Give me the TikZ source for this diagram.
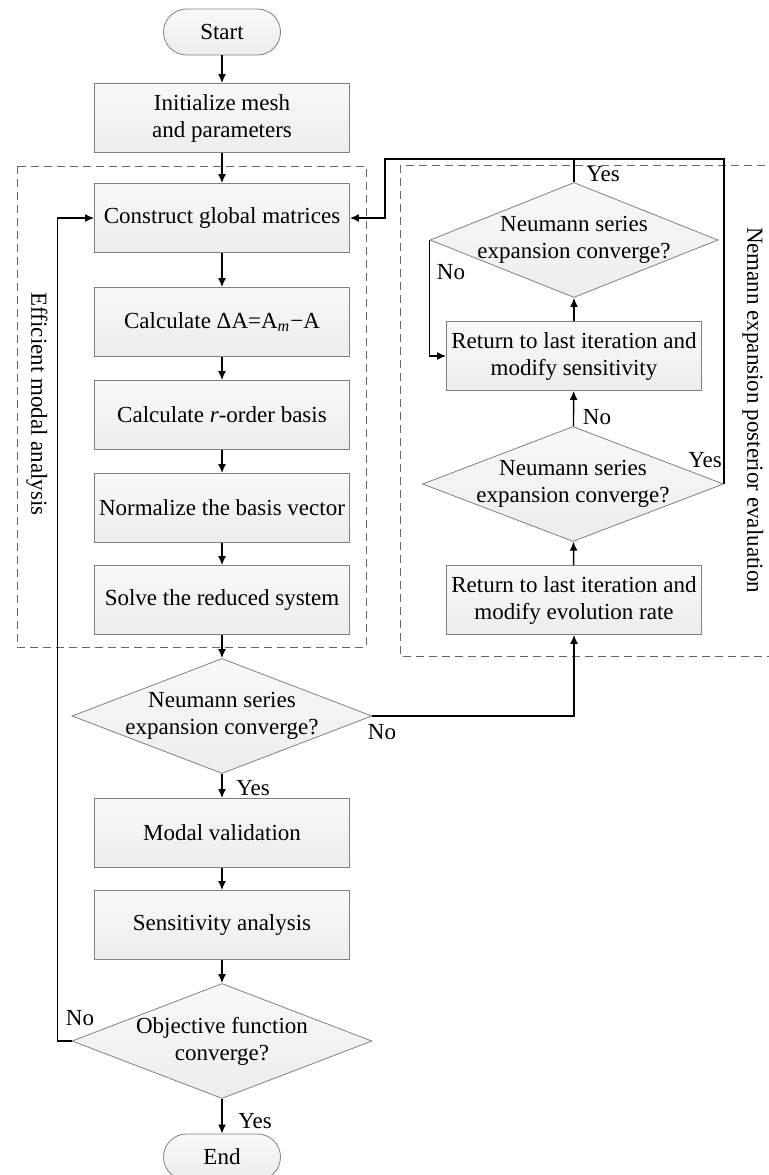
\documentclass[tikz,border=0pt]{standalone}
\usepackage{fontspec}
\setmainfont{Liberation Serif}
\usetikzlibrary{shapes.geometric,arrows.meta}

\begin{document}
\begin{tikzpicture}[x=0.5pt,y=-0.5pt,
  font=\fontsize{11.5}{13.5}\selectfont,
  proc/.style={rectangle,draw=gray,line width=0.4pt,top color=gray!5,bottom color=gray!14,
    minimum width=127.5pt,minimum height=34.5pt,inner sep=0pt,align=center},
  term/.style={proc,rounded corners=11.5pt,minimum width=58.5pt,minimum height=23pt},
  decision/.style={diamond,draw=gray,line width=0.4pt,top color=gray!5,bottom color=gray!14,
    minimum width=150pt,minimum height=57.5pt,inner sep=0pt},
  arr/.style={line width=0.7pt,-{Latex[length=4.5pt,width=4pt]}},
  link/.style={line width=0.7pt},
  dashbox/.style={gray!80!black,line width=0.5pt,dash pattern=on 4pt off 2.5pt}]
\useasboundingbox (0,0) rectangle (769,1175);

% group frames
\draw[dashbox] (17,166) rectangle (366,647);
\draw[dashbox] (400,165) rectangle (800,656);
\node[rotate=-90,inner sep=1pt] (grpL) at (37,404) {Efficient modal analysis};
\node[rotate=-90,inner sep=1pt] (grpR) at (753,410) {Nemann expansion posterior evaluation};

% main column
\node[term] (start) at (222,32) {Start};
\node[proc] (init) at (222,118) {Initialize mesh\\and parameters};
\node[proc] (cons) at (222,218) {Construct global matrices};
\node[proc] (dA) at (222,322) {Calculate ΔA=A\textsubscript{\textit{m}}−A};
\node[proc] (basis) at (222,415) {Calculate \textit{r}-order basis};
\node[proc] (norm) at (222,508) {Normalize the basis vector};
\node[proc] (solve) at (222,600) {Solve the reduced system};
\node[decision,label={[name=d1t,align=center]center:Neumann series\\expansion converge?}] (d1) at (222,716) {};
\node[proc] (modal) at (222,833) {Modal validation};
\node[proc] (sensa) at (222,925) {Sensitivity analysis};
\node[decision,label={[name=objt,align=center]center:Objective function\\converge?}] (obj) at (222,1041) {};
\node[term] (end) at (222,1157) {End};

% posterior column
\node[proc] (evo) at (574,600) {Return to last iteration and\\modify evolution rate};
\node[decision,minimum width=150.5pt,label={[name=d2t,align=center]center:Neumann series\\expansion converge?}] (d2) at (573,484) {};
\node[proc] (sens) at (574,356) {Return to last iteration and\\modify sensitivity};
\node[decision,minimum width=144pt,label={[name=d3t,align=center]center:Neumann series\\expansion converge?}] (d3) at (574,240) {};
\coordinate (top) at (0,159);
\coordinate (topL) at (385,159);

\draw[arr] (start) -- (init);
\draw[arr] (init) -- (cons);
\draw[arr] (cons) -- (dA);
\draw[arr] (dA) -- (basis);
\draw[arr] (basis) -- (norm);
\draw[arr] (norm) -- (solve);
\draw[arr] (solve) -- (d1);
\draw[arr] (d1) -- (modal);
\draw[arr] (modal) -- (sensa);
\draw[arr] (sensa) -- (obj);
\draw[arr] (obj) -- (end);
\draw[arr] (obj.west) -- ++(-14,0) |- (cons.west);
\draw[arr] (d1.east) -| (evo.south);
\draw[arr] (evo) -- (d2);
\draw[arr] (d2) -- (sens);
\draw[arr] (sens) -- (d3);
\draw[arr] (d3.west) |- (sens.west);
\draw[link] (d3.north) -- (d3.north |- top);
\draw[arr] (d2.east) -- (d2.east |- top) -- (topL) |- (cons.east);

% branch labels
\node (yes1) at (253,788) {Yes};
\node (no1) at (382,732) {No};
\node (yes2) at (255,1121) {Yes};
\node (no2) at (80,1018) {No};
\node (yes3) at (705,460) {Yes};
\node (no3) at (597,417) {No};
\node (yes4) at (603,174) {Yes};
\node (no4) at (451,272) {No};
\end{tikzpicture}
\end{document}
